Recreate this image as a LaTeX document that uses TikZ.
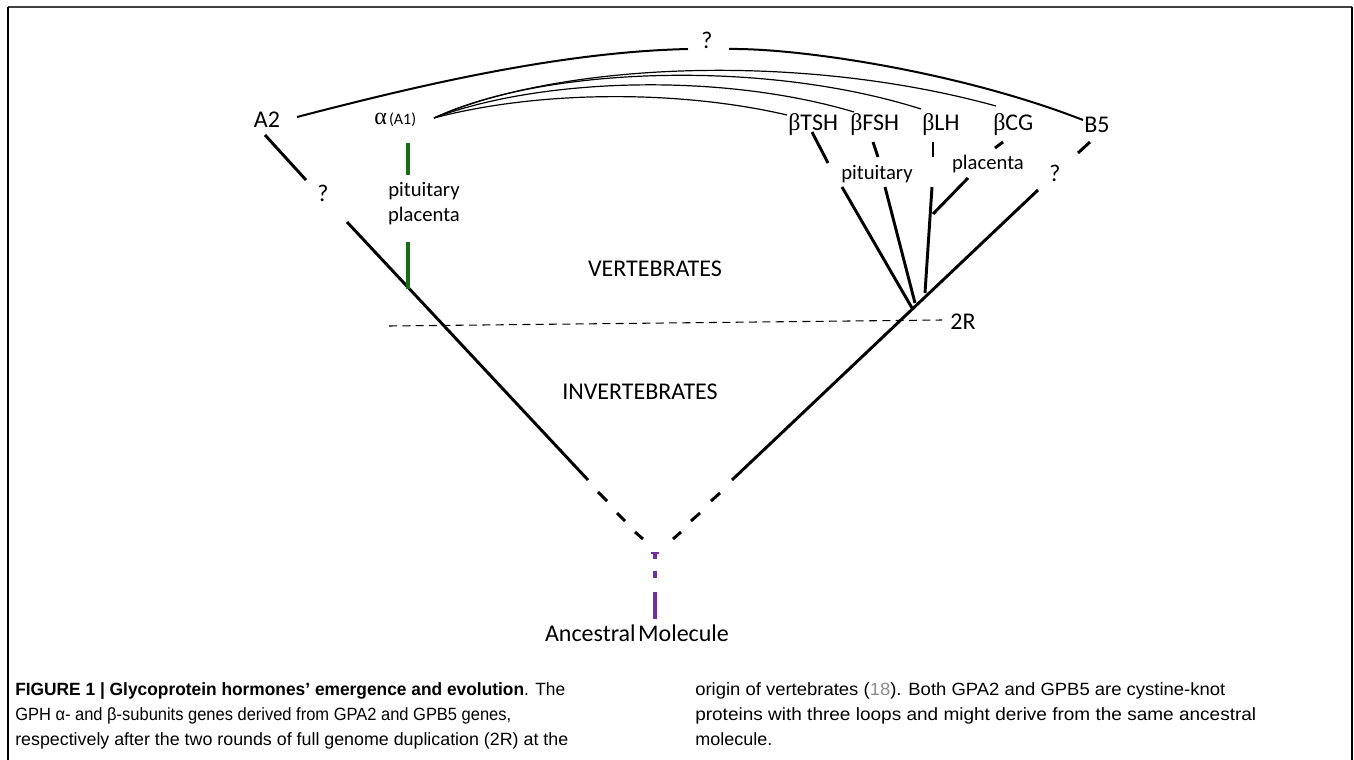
\documentclass[tikz,border=0pt]{standalone}
\usepackage{graphicx}
\usepackage{fontspec}
\setmainfont{Carlito}
\newfontfamily\capfont{Liberation Sans}
\newfontfamily\grk{Liberation Serif}
\definecolor{grn}{RGB}{20,110,20}
\definecolor{prp}{RGB}{112,48,160}
\definecolor{refgray}{RGB}{140,140,140}
\newcommand{\capline}[2]{\resizebox{#1}{\height}{#2}}
\begin{document}
\begin{tikzpicture}[x=0.75pt,y=-0.75pt,
  lbl/.style={font=\fontsize{18}{21}\selectfont, inner sep=0pt},
  sml/.style={font=\fontsize{15.5}{18}\selectfont, inner sep=0pt},
  captxt/.style={font=\capfont\fontsize{13.3}{16}\selectfont, inner sep=0pt, anchor=base west},
  branch/.style={line width=2.2pt},
  thinarc/.style={line width=0.9pt},
  bigarc/.style={line width=1.5pt},
  greenline/.style={line width=2.3pt, grn},
  purpleline/.style={line width=2.3pt, prp},
  frameline/.style={line width=1.5pt}]
\useasboundingbox (0,0) rectangle (1354,760);
% frame
\coordinate (fTL) at (8,7);
\coordinate (fTR) at (1352,7);
\coordinate (fBL) at (8,760);
\coordinate (fBR) at (1352,760);
\draw[frameline, black!75] (fTL) -- (fTR);
\draw[frameline] (fTL) -- (fBL);
\draw[frameline] (fTR) -- (fBR);

% top labels
\node[lbl] (A2) at (267,120) {A2};
\node[lbl] (qtop) at (707,40) {?};
\node[inner sep=0pt, anchor=west] (alpha) at (374,120) {{\grk\fontsize{18}{21}\selectfont α}\,{\fontsize{12}{14}\selectfont (A1)}};
\node[lbl, anchor=west] (bTSH) at (788,125) {{\grk β}TSH};
\node[lbl, anchor=west] (bFSH) at (850,125) {{\grk β}FSH};
\node[lbl, anchor=west] (bLH) at (922,125) {{\grk β}LH};
\node[lbl, anchor=west] (bCG) at (993,125) {{\grk β}CG};
\node[lbl, anchor=west] (B5) at (1084,125) {B5};

% arcs
\coordinate (aE) at (434,118);
\coordinate (a2E) at (297,117);
\coordinate (qL) at (688,49);
\coordinate (qR) at (729,49);
\coordinate (b5T) at (1083,120);
\coordinate (tTSH) at (787,115);
\coordinate (tFSH) at (854,112);
\coordinate (tLH) at (921,109);
\coordinate (tCG) at (996,106);
\draw[bigarc] (a2E) .. controls (420,85) and (560,52) .. (qL);
\draw[bigarc] (qR) .. controls (800,48) and (960,72) .. (b5T);
\draw[thinarc] (aE) .. controls (540,90) and (680,90) .. (tTSH);
\draw[thinarc] (aE) .. controls (540,78) and (720,72) .. (tFSH);
\draw[thinarc] (aE) .. controls (540,68) and (760,58) .. (tLH);
\draw[thinarc] (aE) .. controls (560,62) and (800,52) .. (tCG);

% left side
\node[lbl] (qL1) at (323,193) {?};
\node[sml] (pitL) at (424,191) {pituitary};
\node[sml] (plaL) at (424,216) {placenta};
\coordinate (l0a) at (265,135);
\coordinate (l0b) at (306,180);
\draw[branch] (l0a) -- (l0b);
\coordinate (lTop) at (347,222);
\coordinate (lBot) at (588,480);
\draw[branch] (lTop) -- (lBot);
\coordinate (g1a) at (408,143);
\coordinate (g1b) at (408,175);
\coordinate (g2a) at (408,242);
\coordinate (g2b) at (408,289);
\draw[greenline] (g1a) -- (g1b);
\draw[greenline] (g2a) -- (g2b);
% left dashes
\coordinate (ld1a) at (598,492); \coordinate (ld1b) at (607,501);
\coordinate (ld2a) at (617,513); \coordinate (ld2b) at (625,521);
\coordinate (ld3a) at (635,532); \coordinate (ld3b) at (643,539);
\draw[branch] (ld1a) -- (ld1b);
\draw[branch] (ld2a) -- (ld2b);
\draw[branch] (ld3a) -- (ld3b);
% right dashes
\coordinate (rd1a) at (673,539); \coordinate (rd1b) at (681,532);
\coordinate (rd2a) at (691,521); \coordinate (rd2b) at (700,513);
\coordinate (rd3a) at (711,501); \coordinate (rd3b) at (720,493);
\draw[branch] (rd1a) -- (rd1b);
\draw[branch] (rd2a) -- (rd2b);
\draw[branch] (rd3a) -- (rd3b);
% right long line
\coordinate (rBot) at (732,480);
\coordinate (rTop) at (1038,190);
\draw[branch] (rBot) -- (rTop);

% purple ancestral
\coordinate (p1a) at (655,553); \coordinate (p1b) at (655,559);
\coordinate (p2a) at (655,571); \coordinate (p2b) at (655,578);
\coordinate (p3a) at (655,592); \coordinate (p3b) at (655,619);
\draw[purpleline] (p1a) -- (p1b);
\draw[prp, line width=1.2pt] (651,553) -- (659,553);
\draw[purpleline] (p2a) -- (p2b);
\draw[purpleline] (p3a) -- (p3b);
\node[lbl] (anc) at (637,633) {Ancestral\hspace{0.1em}Molecule};

% middle labels
\node[lbl] (vert) at (655,269) {VERTEBRATES};
\node[lbl] (invert) at (640,392) {INVERTEBRATES};
\node[lbl] (twoR) at (963,322) {2R};
\coordinate (dL) at (389,326);
\coordinate (dR) at (942,320);
\draw[line width=0.8pt, dash pattern=on 6pt off 4pt] (dL) -- (dR);

% right side stubs
\coordinate (s1a) at (812,132); \coordinate (s1b) at (828,163);
\coordinate (s2a) at (873,142); \coordinate (s2b) at (878,157);
\coordinate (s3a) at (933,142); \coordinate (s3b) at (933,157);
\coordinate (s4a) at (1003,142); \coordinate (s4b) at (995,148);
\coordinate (s5a) at (1090,142); \coordinate (s5b) at (1078,153);
\draw[branch] (s1a) -- (s1b);
\draw[branch] (s2a) -- (s2b);
\draw[branch] (s3a) -- (s3b);
\draw[branch] (s4a) -- (s4b);
\draw[branch] (s5a) -- (s5b);
\node[sml] (pitR) at (877,174) {pituitary};
\node[sml] (plaR) at (988,164) {placenta};
\node[lbl] (qR1) at (1055,173) {?};
% right branches
\coordinate (t1a) at (842,187); \coordinate (t1b) at (912,308);
\coordinate (t2a) at (885,187); \coordinate (t2b) at (915,303);
\coordinate (t3a) at (932,187); \coordinate (t3b) at (925,293);
\coordinate (t4a) at (968,178); \coordinate (t4b) at (933,214);
\draw[branch] (t1a) -- (t1b);
\draw[branch] (t2a) -- (t2b);
\draw[branch] (t3a) -- (t3b);
\draw[branch] (t4a) -- (t4b);

% caption
\node[captxt] (c1) at (15,695) {\capline{412.5pt}{\textbf{FIGURE 1 | Glycoprotein hormones’ emergence and evolution}. The}};
\node[captxt] (c2) at (15,720) {\capline{372pt}{GPH α- and β-subunits genes derived from GPA2 and GPB5 genes,}};
\node[captxt] (c3) at (15,745) {\capline{414.75pt}{respectively after the two rounds of full genome duplication (2R) at the}};
\node[captxt] (c4) at (695,695) {\capline{397.5pt}{origin of vertebrates ({\color{refgray}18}). Both GPA2 and GPB5 are cystine-knot}};
\node[captxt] (c5) at (695,720) {\capline{420.75pt}{proteins with three loops and might derive from the same ancestral}};
\node[captxt] (c6) at (695,745) {\capline{57.75pt}{molecule.}};
\end{tikzpicture}
\end{document}
